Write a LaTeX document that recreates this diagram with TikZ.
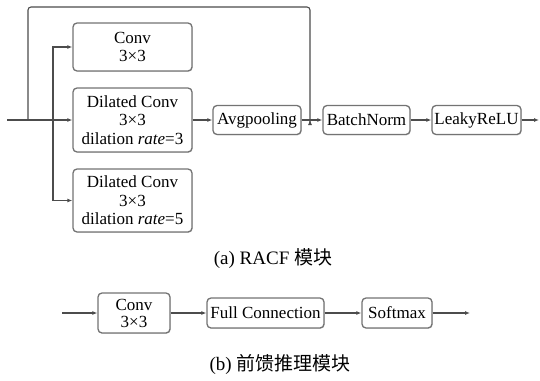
\documentclass[tikz,border=0pt]{standalone}
\usepackage{fontspec}
\setmainfont{Liberation Serif}
\newfontfamily\cjk{Noto Sans CJK SC}
\usetikzlibrary{arrows.meta,shadows}
\begin{document}
\begin{tikzpicture}[x=1pt,y=-1pt,
  box/.style={draw=black!55, line width=1.3pt, rounded corners=4pt, fill=white,
    align=center, inner sep=1pt, font=\fontsize{17}{18.5}\selectfont,
    drop shadow={shadow xshift=0.8pt, shadow yshift=-0.8pt, opacity=0.25}},
  tight/.style={font=\fontsize{17}{17}\selectfont},
  conn/.style={draw=black!70, line width=1.1pt, -{Latex[length=5pt,width=4pt]}},
  plain/.style={draw=black!70, line width=1.1pt},
  captext/.style={font=\fontsize{19}{21}\selectfont}]
\useasboundingbox (0,0) rectangle (540,380);

% (a) RACF module
\node[box, minimum width=119pt, minimum height=48pt] (conv) at (132.5,47) {Conv\\3×3};
\node[box, minimum width=119pt, minimum height=64pt] (dil3) at (132.5,120) {Dilated Conv\\3×3\\dilation \textit{rate}=3};
\node[box, minimum width=119pt, minimum height=63pt] (dil5) at (132.5,200.5) {Dilated Conv\\3×3\\dilation \textit{rate}=5};
\node[box, minimum width=88pt, minimum height=29pt] (avg) at (257,120) {Avgpooling};
\node[box, minimum width=87pt, minimum height=29pt] (bn) at (366.5,120) {BatchNorm};
\node[box, minimum width=89pt, minimum height=29pt] (lr) at (476.5,120) {LeakyReLU};

\coordinate (in) at (7,120);
\coordinate (fb) at (28,120);
\coordinate (br) at (53,120);
\coordinate (tr) at (310,7);
\coordinate (j) at (310,120);
\coordinate (out) at (539,120);

\draw[conn] (in) -- (dil3);
\draw[conn] (br) |- (conv);
\draw[conn] (br) |- (dil5);
\draw[plain, rounded corners=3pt] (fb) |- (tr) -- ([yshift=-3pt]j);
\draw[conn] ([yshift=-4pt]j) -- (j);
\draw[conn] (dil3) -- (avg);
\draw[conn] (avg) -- (bn);
\draw[conn] (bn) -- (lr);
\draw[conn] (lr) -- (out);

\node[captext] (capa) at (273,259) {(a) RACF {\cjk 模块}};

% (b) feed-forward inference module
\node[box, tight, minimum width=72pt, minimum height=40pt] (conv2) at (134,313) {Conv\\3×3};
\node[box, minimum width=117pt, minimum height=30pt] (fc) at (265.5,313) {Full Connection};
\node[box, minimum width=70pt, minimum height=30pt] (sm) at (397,313) {Softmax};
\coordinate (in2) at (62,313);
\coordinate (out2) at (470,313);
\draw[conn] (in2) -- (conv2);
\draw[conn] (conv2) -- (fc);
\draw[conn] (fc) -- (sm);
\draw[conn] (sm) -- (out2);

\node[captext] (capb) at (280,364) {(b) {\cjk 前馈推理模块}};
\end{tikzpicture}
\end{document}
